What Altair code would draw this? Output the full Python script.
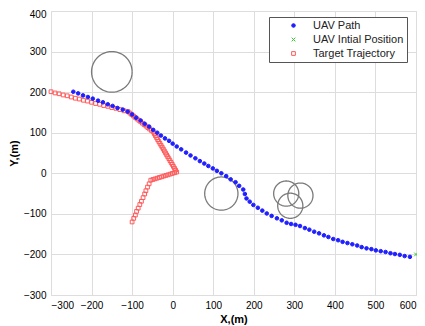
import altair as alt
import pandas as pd
import numpy as np

# ---- data ----
uav_x = [-245, -233, -221, -209, -197, -184, -172, -160, -148, -136, -123, -111,
         -100, -90, -79, -69, -58, -48,
         -38, -29, -19, -9, 0, 10,
         21, 33, 44, 56, 67,
         78, 88, 99, 109, 120,
         132, 143, 155, 164, 174, 178, 182, 190, 199,
         210, 221, 232, 244, 257, 269, 281, 292, 303, 314,
         326, 337, 349, 361, 373, 384, 396,
         408, 419, 431, 443, 455, 466, 478,
         490, 501, 513, 525, 537, 548, 560, 572, 585]
uav_y = [201, 197, 192, 188, 184, 179, 175, 170, 166, 161, 157, 152,
         145, 137, 130, 122, 115, 107,
         100, 93, 86, 80, 73, 66,
         59, 51, 44, 37, 30,
         24, 18, 12, 6, 0,
         -7, -15, -22, -31, -40, -51, -62, -70, -78,
         -85, -92, -99, -105, -111, -116, -122, -125, -127, -130,
         -135, -139, -144, -148, -153, -157, -162,
         -165, -169, -172, -175, -178, -182, -185,
         -187, -190, -192, -194, -197, -199, -201, -204, -206]

init_x = [600]
init_y = [-200]

tgt_x = [-300, -290, -280, -270, -260, -250, -240, -230, -220, -210, -200, -190,
         -180, -170, -160, -150, -140, -130, -120, -110,
         -105.6, -101.1, -96.7, -92.3, -87.9, -83.4, -79, -74.6, -70.1, -65.7,
         -61.3, -56.9, -52.4, -48,
         -45.2, -42.5, -39.7, -37, -34.2, -31.4, -28.7, -25.9, -23.1, -20.4,
         -17.6, -14.9, -12.1, -9.3, -6.6, -3.8, -1, 1.7, 4.5, 7.2, 10,
         4.7, -0.7, -6, -11.3, -16.7, -22, -27.3, -32.7, -38, -43.3, -48.7, -54,
         -58, -62, -66, -69, -73, -77, -81, -85, -89, -92, -96, -100]
tgt_y = [201, 198, 196, 193, 191, 188, 185, 183, 180, 178, 175, 172,
         170, 167, 165, 162, 160, 157, 154, 152,
         148.4, 144.9, 141.3, 137.7, 134.1, 130.6, 127, 123.4, 119.9, 116.3,
         112.7, 109.1, 105.6, 102,
         97.3, 92.6, 87.9, 83.1, 78.4, 73.7, 69, 64.3, 59.6, 54.9,
         50.1, 45.4, 40.7, 36, 31.3, 26.6, 21.9, 17.1, 12.4, 7.7, 3,
         1.3, -0.3, -2, -3.7, -5.3, -7, -8.7, -10.3, -12, -13.7, -15.3, -17,
         -26, -34, -43, -51, -60, -69, -77, -86, -94, -103, -111, -120]

obs_cx = [-150, 120, 280, 315, 290]
obs_cy = [250, -50, -50, -55, -80]
obs_r = [50, 41, 31, 31, 31]

series_order = ["UAV Path", "UAV Intial Position", "Target Trajectory"]

# ---- tables ----
rows = []
for i, (x, y) in enumerate(zip(tgt_x, tgt_y)):
    rows.append({"x": x, "y": y, "series": "Target Trajectory", "idx": i})
n0 = len(rows)
for i, (x, y) in enumerate(zip(uav_x, uav_y)):
    rows.append({"x": x, "y": y, "series": "UAV Path", "idx": n0 + i})
n1 = len(rows)
for i, (x, y) in enumerate(zip(init_x, init_y)):
    rows.append({"x": x, "y": y, "series": "UAV Intial Position", "idx": n1 + i})
pts = pd.DataFrame(rows)

circ = []
ang = np.linspace(0, 2 * np.pi, 91)
for k, (cx, cy, r) in enumerate(zip(obs_cx, obs_cy, obs_r)):
    for j, a in enumerate(ang):
        circ.append({"x": cx + r * np.cos(a), "y": cy + r * np.sin(a), "c": k, "j": j})
circ = pd.DataFrame(circ)

font = "Liberation Sans"
xscale = alt.Scale(domain=[-300, 600], nice=False, zero=False)
yscale = alt.Scale(domain=[-300, 400], nice=False, zero=False)
xaxis = alt.Axis(values=list(range(-300, 601, 100)), title="X,(m)", grid=True,
                 tickSize=0, labelPadding=5, titlePadding=3, domain=False)
yaxis = alt.Axis(values=list(range(-300, 401, 100)), title="Y,(m)", grid=True,
                 tickSize=0, labelPadding=5, titlePadding=4, domain=False,
                 labelOffset={"condition": {"test": "datum.value == 400", "value": 3}, "value": 0})

leg = alt.Legend(title=None, orient="none", legendX=218, legendY=6,
                 fillColor="white", strokeColor="#555555", padding=3,
                 symbolOffset=16, labelOffset=14, rowPadding=2,
                 labelFont=font, labelFontSize=11, labelColor="#222222",
                 symbolStrokeWidth=1)

xshape = "M-1,-1L1,1M-1,1L1,-1"

circles = alt.Chart(circ).mark_line(color="#7a7a7a", strokeWidth=1.3).encode(
    x=alt.X("x:Q", scale=xscale, axis=xaxis),
    y=alt.Y("y:Q", scale=yscale, axis=yaxis),
    detail="c:N",
    order="j:Q",
)

points = alt.Chart(pts).mark_point(strokeWidth=1, opacity=1).encode(
    x=alt.X("x:Q", scale=xscale, axis=xaxis),
    y=alt.Y("y:Q", scale=yscale, axis=yaxis),
    shape=alt.Shape("series:N", scale=alt.Scale(domain=series_order, range=["circle", xshape, "square"]), legend=leg),
    stroke=alt.Stroke("series:N", scale=alt.Scale(domain=series_order, range=["#1f1fff", "#33cc33", "#ff5a5a"]), legend=leg),
    fill=alt.Fill("series:N", scale=alt.Scale(domain=series_order, range=["#1f1fff", "transparent", "transparent"]), legend=leg),
    size=alt.Size("series:N", scale=alt.Scale(domain=series_order, range=[13, 14, 27]), legend=leg),
    order=alt.Order("idx:Q"),
)

chart = alt.layer(circles, points).properties(
    width=365, height=284,
    autosize=alt.AutoSizeParams(type="none"),
    padding={"left": 43, "top": 3, "right": 1, "bottom": 30},
).configure_view(
    stroke="#8a8a8a", strokeWidth=1
).configure_axis(
    gridColor="#e3e3e3", gridWidth=1,
    labelFont=font, labelFontSize=11, labelColor="#333333",
    titleFont=font, titleFontSize=11, titleColor="#333333", titleFontWeight="normal",
).configure(background="white")

chart.save("out.html", embed_options={"renderer": "svg", "actions": False})
